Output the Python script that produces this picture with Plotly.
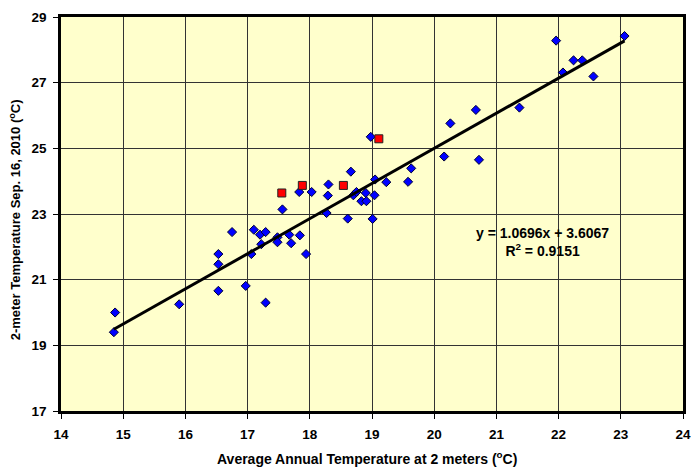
import plotly.graph_objects as go

# Blue diamonds: average annual temperature vs Sep 16, 2010 temperature
blue_x = [14.87, 14.85, 15.90, 16.53, 16.53, 16.53, 16.75, 16.97, 17.29, 17.06,
          17.10, 17.20, 17.29, 17.22, 17.48, 17.48, 17.67, 17.70, 17.84, 17.94,
          17.56, 17.83, 18.03, 18.30, 18.29, 18.27, 18.66, 18.61, 19.01, 18.70,
          18.75, 18.90, 18.83, 18.91, 19.05, 19.04, 19.23, 18.98, 19.63, 19.58,
          20.16, 20.26, 20.67, 20.72, 21.37, 21.96, 23.06, 22.24, 22.38, 22.07,
          22.56]
blue_y = [20.00, 19.40, 20.25, 21.78, 21.47, 20.66, 22.45, 20.81, 20.30, 21.78,
          22.52, 22.37, 22.45, 22.08, 22.29, 22.14, 22.37, 22.11, 22.35, 21.78,
          23.14, 23.67, 23.67, 23.90, 23.56, 23.03, 24.29, 22.86, 22.85, 23.57,
          23.67, 23.64, 23.39, 23.39, 24.05, 23.57, 23.97, 25.35, 24.39, 23.98,
          24.75, 25.76, 26.17, 24.65, 26.24, 28.28, 28.42, 27.68, 27.68, 27.31,
          27.19]

# Red squares
red_x = [17.55, 17.88, 18.54, 19.11]
red_y = [23.64, 23.87, 23.87, 25.29]

# Linear trend line coefficients
slope = 1.0696
intercept = 3.6067
r_squared = 0.9151

x_ticks = [14, 15, 16, 17, 18, 19, 20, 21, 22, 23, 24]
y_ticks = [17, 19, 21, 23, 25, 27, 29]

x_title = "Average Annual Temperature at 2 meters (<sup>o</sup>C)"
y_title = "2-meter Temperature Sep. 16, 2010 (<sup>o</sup>C)"

FONT = "Arial, 'Liberation Sans', sans-serif"

x0, x1 = min(blue_x), max(blue_x)
trend_x = [x0, x1]
trend_y = [slope * v + intercept for v in trend_x]

fig = go.Figure()
fig.add_trace(go.Scatter(
    x=blue_x, y=blue_y, mode="markers",
    marker=dict(symbol="diamond", size=7, color="#0000FF",
                line=dict(color="#000033", width=1)),
    showlegend=False, hoverinfo="x+y"))
fig.add_trace(go.Scatter(
    x=red_x, y=red_y, mode="markers",
    marker=dict(symbol="square", size=8, color="#FF0000",
                line=dict(color="#222222", width=1)),
    showlegend=False, hoverinfo="x+y"))
fig.add_trace(go.Scatter(
    x=trend_x, y=trend_y, mode="lines",
    line=dict(color="black", width=3),
    showlegend=False, hoverinfo="skip"))

fig.add_annotation(
    x=0.7746, y=0.429, xref="paper", yref="paper",
    xanchor="center", yanchor="middle",
    text=f"<b>y = {slope:.4f}x + {intercept:.4f}<br>R<sup>2</sup> = {r_squared:.4f}</b>",
    showarrow=False, align="center",
    font=dict(family=FONT, size=14, color="black"))

# Axis titles
fig.add_annotation(
    x=0.492, y=-0.120, xref="paper", yref="paper",
    xanchor="center", yanchor="middle",
    text=f"<b>{x_title}</b>", showarrow=False,
    font=dict(family=FONT, size=14, color="black"))
fig.add_annotation(
    x=-0.0739, y=0.484, xref="paper", yref="paper",
    xanchor="center", yanchor="middle", textangle=-90,
    text=f"<b>{y_title}</b>", showarrow=False,
    font=dict(family=FONT, size=13, color="black"))

fig.update_layout(
    width=691, height=467,
    margin=dict(l=61, r=8, t=17, b=56),
    paper_bgcolor="white",
    plot_bgcolor="#FFFFCC",
    font=dict(family=FONT, size=13, color="black"),
    xaxis=dict(
        range=[14, 24], tickvals=x_ticks,
        ticktext=[f"<b>{v}</b>" for v in x_ticks],
        showgrid=True, gridcolor="#333333", gridwidth=1,
        showline=True, linecolor="black", linewidth=2.5, mirror=True,
        ticks="outside", ticklen=5, tickcolor="black",
        ticklabelstandoff=4,
        tickfont=dict(family=FONT, size=13.5, weight="bold"),
        zeroline=False, automargin=False),
    yaxis=dict(
        range=[17, 29], tickvals=y_ticks,
        ticktext=[f"<b>{v}</b>" for v in y_ticks],
        showgrid=True, gridcolor="#333333", gridwidth=1,
        showline=True, linecolor="black", linewidth=2.5, mirror=True,
        ticks="outside", ticklen=5, tickcolor="black",
        ticklabelstandoff=4,
        tickfont=dict(family=FONT, size=13.5, weight="bold"),
        zeroline=False, automargin=False),
)

fig.write_html("out.html",
               config={"displayModeBar": False},
               post_script="document.body.style.margin='0';"
                           "document.body.style.overflow='hidden';")
